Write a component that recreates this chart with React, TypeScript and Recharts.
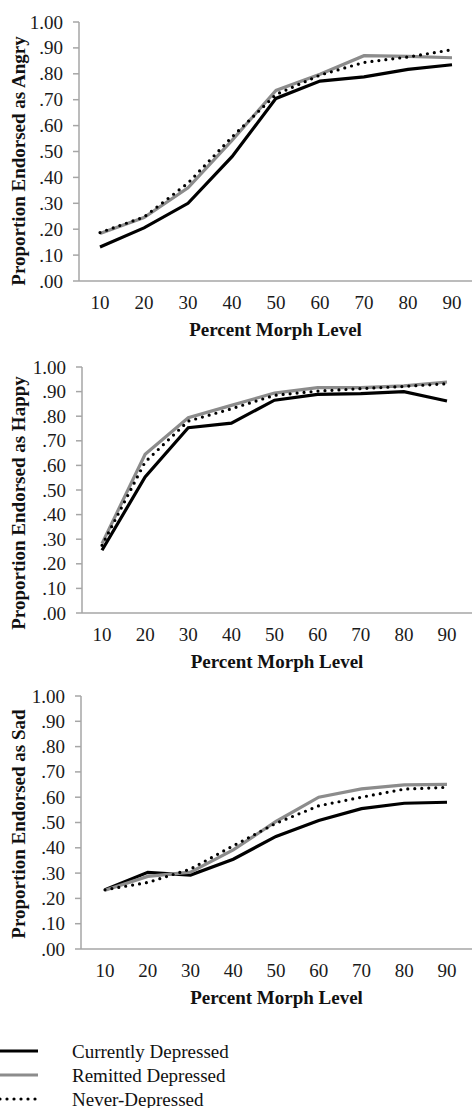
import React from "react";
import { LineChart, Line, XAxis, YAxis } from "recharts";

// morph levels on the x axis
const levels = [10, 20, 30, 40, 50, 60, 70, 80, 90];
const yTicks = [0, 0.1, 0.2, 0.3, 0.4, 0.5, 0.6, 0.7, 0.8, 0.9, 1];

const seriesNames = ["Currently Depressed", "Remitted Depressed", "Never-Depressed"];

// Angry
const angryCurrent = [0.131, 0.205, 0.3, 0.48, 0.705, 0.772, 0.788, 0.817, 0.835];
const angryRemitted = [0.183, 0.245, 0.36, 0.543, 0.736, 0.798, 0.87, 0.867, 0.862];
const angryNever = [0.187, 0.247, 0.378, 0.556, 0.72, 0.795, 0.844, 0.865, 0.893];

// Happy
const happyCurrent = [0.255, 0.553, 0.753, 0.772, 0.865, 0.889, 0.892, 0.9, 0.862];
const happyRemitted = [0.282, 0.645, 0.794, 0.844, 0.894, 0.916, 0.916, 0.923, 0.939];
const happyNever = [0.275, 0.614, 0.78, 0.83, 0.885, 0.902, 0.912, 0.921, 0.932];

// Sad
const sadCurrent = [0.234, 0.303, 0.292, 0.355, 0.445, 0.508, 0.555, 0.576, 0.58];
const sadRemitted = [0.232, 0.287, 0.304, 0.392, 0.504, 0.6, 0.633, 0.649, 0.651];
const sadNever = [0.234, 0.263, 0.316, 0.408, 0.497, 0.566, 0.6, 0.632, 0.639];

const FONT = '"Liberation Serif", "Times New Roman", serif';
const AXIS = "#a6a6a6";
const INK = "#1a1a1a";

const lineStyles = [
  { stroke: "#000000", strokeWidth: 3.2 },
  { stroke: "#8c8c8c", strokeWidth: 3.2 },
  { stroke: "#000000", strokeWidth: 3.2, strokeDasharray: "0 7", strokeLinecap: "round" as const },
];

const build = (a: number[], b: number[], c: number[]) =>
  levels.map((lv, i) => ({ level: lv, current: a[i], remitted: b[i], never: c[i] }));

const fmt = (v: number) => (v >= 1 ? "1.00" : "." + Math.round(v * 100).toString().padStart(2, "0"));

const XTick = (props: any) => {
  const { x, y, payload } = props;
  return (
    <text x={x} y={y} dy={20} textAnchor="middle" fontSize={19} fill={INK} fontFamily={FONT}>
      {payload.value}
    </text>
  );
};

const YTick = (props: any) => {
  const { x, y, payload } = props;
  return (
    <text x={x} y={y} dy={6.5} textAnchor="end" fontSize={19} fill={INK} fontFamily={FONT}>
      {fmt(payload.value)}
    </text>
  );
};

interface PanelProps {
  data: ReturnType<typeof build>;
  yTitle: string;
  top: number;
  plotH: number;
  yW: number;
  padL: number;
  padR: number;
  titleY: number;
}

function Panel({ data, yTitle, top, plotH, yW, padL, padR, titleY }: PanelProps) {
  const height = 22 + plotH + 60;
  return (
    <div style={{ position: "absolute", left: 0, top }}>
      <LineChart width={472} height={height} data={data} margin={{ top: 22, right: 0, bottom: 0, left: 0 }}>
        <XAxis
          dataKey="level"
          height={60}
          interval={0}
          padding={{ left: padL, right: padR }}
          tickLine={false}
          tickSize={0}
          tickMargin={8}
          axisLine={{ stroke: AXIS, strokeWidth: 1.5 }}
          tick={<XTick />}
          label={{
            content: (p: any) => {
              const vb = p.viewBox;
              return (
                <text
                  x={vb.x + vb.width / 2}
                  y={vb.y + 55}
                  textAnchor="middle"
                  fontSize={19}
                  fontWeight="bold"
                  fill="#111"
                  fontFamily={FONT}
                >
                  Percent Morph Level
                </text>
              );
            },
          }}
        />
        <YAxis
          width={yW}
          domain={[0, 1]}
          ticks={yTicks}
          interval={0}
          tickSize={6}
          tickMargin={10}
          axisLine={{ stroke: AXIS, strokeWidth: 1.5 }}
          tickLine={{ stroke: AXIS, strokeWidth: 1.5 }}
          tick={<YTick />}
          label={{
            content: () => (
              <text
                x={18}
                y={titleY}
                transform={`rotate(-90 18 ${titleY})`}
                textAnchor="middle"
                dominantBaseline="central"
                fontSize={19}
                fontWeight="bold"
                fill="#111"
                fontFamily={FONT}
              >
                {yTitle}
              </text>
            ),
          }}
        />
        <Line dataKey="current" name={seriesNames[0]} dot={false} isAnimationActive={false} {...lineStyles[0]} />
        <Line dataKey="remitted" name={seriesNames[1]} dot={false} isAnimationActive={false} {...lineStyles[1]} />
        <Line dataKey="never" name={seriesNames[2]} dot={false} isAnimationActive={false} {...lineStyles[2]} />
      </LineChart>
    </div>
  );
}

function LegendBlock() {
  const rows = [1051, 1075, 1099];
  return (
    <svg width={472} height={1108} style={{ position: "absolute", left: 0, top: 0, pointerEvents: "none" }}>
      {seriesNames.map((name, i) => (
        <g key={name}>
          <line x1={0} x2={38} y1={rows[i]} y2={rows[i]} {...lineStyles[i]} />
          <text x={72} y={rows[i]} dominantBaseline="central" fontSize={19} fill="#111" fontFamily={FONT}>
            {name}
          </text>
        </g>
      ))}
    </svg>
  );
}

export default function App() {
  return (
    <div style={{ position: "absolute", left: 0, top: 0, width: 472, height: 1108, background: "#fff", overflow: "hidden", fontFamily: FONT }}>
      <Panel data={build(angryCurrent, angryRemitted, angryNever)} yTitle="Proportion Endorsed as Angry" top={0} plotH={259} yW={79} padL={21} padR={20} titleY={161} />
      <Panel data={build(happyCurrent, happyRemitted, happyNever)} yTitle="Proportion Endorsed as Happy" top={345} plotH={246} yW={82} padL={20} padR={25} titleY={158} />
      <Panel data={build(sadCurrent, sadRemitted, sadNever)} yTitle="Proportion Endorsed as Sad" top={674} plotH={253} yW={81} padL={24} padR={25} titleY={150} />
      <LegendBlock />
    </div>
  );
}
